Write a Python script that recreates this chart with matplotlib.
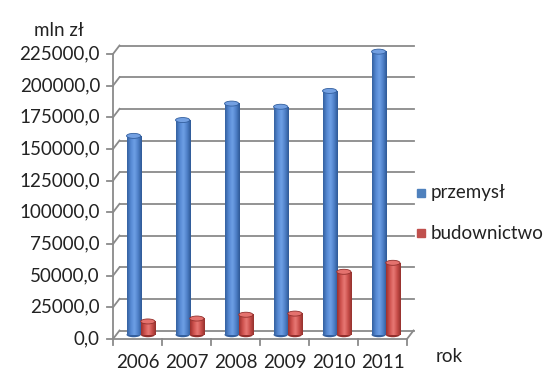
import numpy as np
import matplotlib.pyplot as plt
from matplotlib.patches import Ellipse, Rectangle
from matplotlib.colors import LinearSegmentedColormap

plt.rcParams['font.family'] = ['Lato', 'DejaVu Sans']

# data (mln zł)
years = ['2006', '2007', '2008', '2009', '2010', '2011']
przemysl = [157000, 169500, 182500, 180000, 192500, 223500]
budownictwo = [10500, 12800, 15800, 16700, 49700, 56800]
yticks = np.arange(0, 225001, 25000)

W, H = 550, 374
fig = plt.figure(figsize=(W / 100, H / 100), dpi=100)
# front face of the 3D box: x 113..407 px, y 339..54 px
ax = fig.add_axes([113 / W, (H - 339) / H, 294 / W, 285 / H])
ax.set_xlim(0, 6)
ax.set_ylim(0, 225000)
ax.axis('off')

px_x = 6 / 294
px_y = 225000 / 285
dx, dy = 6.5 * px_x, 8.5 * px_y   # depth offset of the back wall
grid_c = '#8a8a8a'

# back wall gridlines, side wall diagonals and front axis ticks
for v in yticks:
    ax.plot([dx, 6 + dx], [v + dy, v + dy], color=grid_c, lw=1.3, zorder=1, clip_on=False)
    ax.plot([0, dx], [v, v + dy], color=grid_c, lw=1.3, zorder=1, clip_on=False)
    ax.plot([-6 * px_x, 0], [v, v], color=grid_c, lw=1.3, zorder=5, clip_on=False)
    ax.text(-13 * px_x, v, f'{v:.1f}'.replace('.', ','), ha='right', va='center',
            fontsize=13.5, color='#222222', clip_on=False)
ax.plot([0, 0], [0, 225000], color=grid_c, lw=1.3, zorder=5, clip_on=False)

# floor front edge, right edge and category ticks
ax.plot([0, 6], [0, 0], color=grid_c, lw=1.3, zorder=5, clip_on=False)
ax.plot([6, 6 + dx], [0, dy], color=grid_c, lw=1.3, zorder=5, clip_on=False)
for i in range(7):
    ax.plot([i, i], [0, -6 * px_y], color=grid_c, lw=1.3, zorder=5, clip_on=False)
for i, y in enumerate(years):
    ax.text(i + 0.5, -23 * px_y, y, ha='center', va='center', fontsize=13.5,
            color='#222222', clip_on=False)

blue_cmap = LinearSegmentedColormap.from_list(
    'blue_cyl', ['#34609f', '#5488d2', '#6fa0e6', '#4e80c8', '#2e5895'])
red_cmap = LinearSegmentedColormap.from_list(
    'red_cyl', ['#9a302d', '#cf524e', '#e87a76', '#c94e4a', '#93302d'])


def cylinder(xc, value, w, cmap, top_c, bottom_c):
    base = dy / 2
    ell_h = 5 * px_y
    ax.add_patch(Ellipse((xc, base), w, ell_h, color=bottom_c, zorder=3, lw=0,
                         clip_on=False))
    grad = np.linspace(0, 1, 64).reshape(1, -1)
    ax.imshow(grad, cmap=cmap, extent=[xc - w / 2, xc + w / 2, base, base + value],
              aspect='auto', interpolation='bicubic', zorder=3, clip_on=False)
    ax.add_patch(Ellipse((xc, base + value), w, ell_h, facecolor=top_c,
                         edgecolor=bottom_c, lw=0.6, zorder=4, clip_on=False))


bw = 0.29
for i in range(6):
    c = i + 0.5 + dx / 2
    cylinder(c - 0.145, przemysl[i], bw, blue_cmap, '#73a0e2', '#34609f')
    cylinder(c + 0.145, budownictwo[i], bw, red_cmap, '#e4726e', '#93302d')

ax.set_xlim(0, 6)
ax.set_ylim(0, 225000)

# axis titles
fig.text(59 / W, 1 - 30 / H, 'mln zł', ha='center', va='center', fontsize=13.5, color='#222222')
fig.text(436 / W, 1 - 356 / H, 'rok', ha='left', va='center', fontsize=13.5, color='#222222')

# legend
for yy, col, lab in [(193, '#4f81bd', 'przemysł'), (233, '#c0504d', 'budownictwo')]:
    fig.patches.append(Rectangle((417 / W, 1 - (yy + 4) / H), 8 / W, 8 / H,
                                 color=col, transform=fig.transFigure, figure=fig))
    fig.text(431 / W, 1 - yy / H, lab, ha='left', va='center', fontsize=13.5, color='#222222')

fig.savefig('out.png', dpi=100, facecolor='white')
